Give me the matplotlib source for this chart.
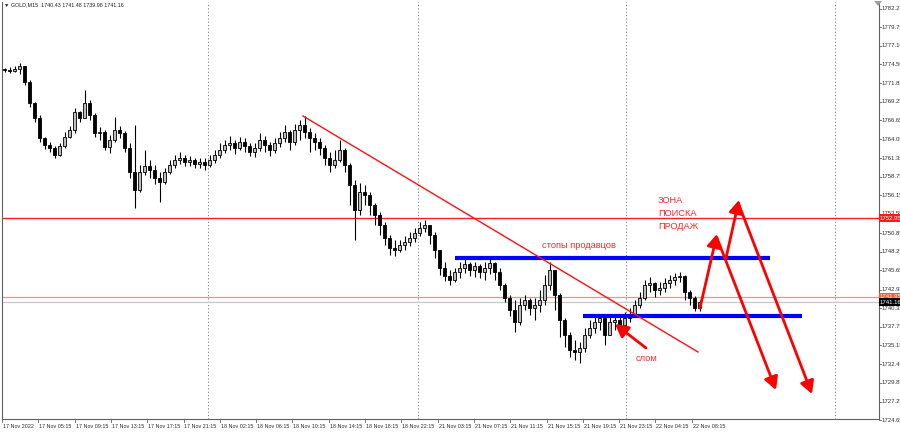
import matplotlib
matplotlib.use("Agg")
import matplotlib.pyplot as plt
import matplotlib.transforms as mtrans
import numpy as np

# ---------------- data ----------------
header = "\u25bc GOLD,M15  1740.43 1741.48 1739.98 1741.16"
first_open = 1773.9
close = [
    1773.7, 1773.6, 1773.8, 1774.3, 1772.0, 1769.1, 1767.0, 1764.2, 1763.2, 1762.8,
    1761.8, 1763.1, 1764.3, 1765.3, 1767.8, 1767.0, 1769.1, 1767.4, 1764.9, 1765.0,
    1762.9, 1763.9, 1765.3, 1764.9, 1762.8, 1759.4, 1756.9, 1759.4, 1760.3, 1759.7,
    1758.6, 1758.0, 1759.4, 1760.4, 1761.1, 1761.4, 1760.8, 1761.1, 1760.5, 1760.8,
    1760.4, 1761.1, 1761.8, 1762.5, 1763.2, 1763.5, 1762.8, 1763.6, 1763.1, 1762.2,
    1762.8, 1763.9, 1763.2, 1762.5, 1763.5, 1764.2, 1765.0, 1763.6, 1765.3, 1766.0,
    1765.0, 1764.2, 1763.6, 1762.8, 1761.4, 1760.4, 1761.1, 1762.5, 1760.4, 1757.6,
    1754.1, 1756.6, 1756.2, 1754.8, 1753.4, 1752.0, 1750.2, 1748.8, 1748.5, 1749.2,
    1749.6, 1750.2, 1750.9, 1751.6, 1752.0, 1750.6, 1748.5, 1746.0, 1744.9, 1744.3,
    1745.4, 1746.0, 1746.5, 1745.7, 1746.3, 1745.4, 1746.0, 1746.7, 1745.4, 1743.6,
    1741.8, 1740.1, 1738.4, 1740.8, 1741.5, 1740.4, 1740.8, 1741.5, 1743.6, 1745.7,
    1742.2, 1738.7, 1736.6, 1734.5, 1734.2, 1734.8, 1736.6, 1737.6, 1738.4, 1739.0,
    1736.6, 1738.4, 1738.7, 1738.0, 1739.0, 1739.4, 1740.8, 1741.8, 1743.6, 1743.9,
    1742.9, 1743.2, 1743.9, 1744.3, 1744.7, 1744.9, 1742.6, 1741.8, 1740.4, 1741.16,
]
high = [
    1774.0, 1774.1, 1774.3, 1774.7, 1774.3, 1772.3, 1769.3, 1767.4, 1764.3, 1763.6,
    1763.1, 1763.5, 1765.0, 1765.9, 1768.4, 1768.0, 1770.9, 1769.5, 1767.7, 1765.7,
    1765.3, 1764.6, 1767.1, 1765.9, 1765.2, 1763.5, 1766.0, 1760.4, 1762.5, 1761.1,
    1760.4, 1759.4, 1760.0, 1761.1, 1761.8, 1762.2, 1761.8, 1761.7, 1761.4, 1761.4,
    1761.4, 1761.8, 1762.5, 1763.5, 1763.9, 1764.5, 1763.9, 1764.3, 1764.2, 1763.5,
    1763.5, 1764.9, 1764.5, 1763.6, 1764.2, 1765.0, 1766.0, 1765.3, 1766.1, 1766.7,
    1767.3, 1765.6, 1764.9, 1764.2, 1763.2, 1762.2, 1762.5, 1763.9, 1762.8, 1760.7,
    1758.3, 1757.9, 1757.6, 1756.6, 1755.1, 1753.8, 1752.4, 1750.6, 1749.9, 1749.9,
    1750.5, 1751.0, 1751.6, 1752.4, 1752.7, 1752.0, 1751.0, 1748.5, 1746.8, 1745.7,
    1746.0, 1746.8, 1747.2, 1746.8, 1746.8, 1746.5, 1746.8, 1747.2, 1746.8, 1746.0,
    1743.9, 1742.2, 1741.5, 1741.8, 1742.2, 1741.8, 1741.8, 1742.9, 1745.0, 1746.8,
    1745.7, 1742.4, 1739.0, 1737.0, 1735.9, 1735.6, 1737.6, 1738.7, 1739.5, 1739.4,
    1739.3, 1739.3, 1739.3, 1739.4, 1739.8, 1740.4, 1741.5, 1742.6, 1744.3, 1744.7,
    1744.0, 1744.0, 1744.6, 1745.0, 1745.3, 1745.4, 1745.0, 1742.9, 1742.1, 1741.48,
]
low = [
    1773.4, 1773.3, 1773.4, 1773.1, 1771.6, 1768.5, 1766.4, 1763.6, 1762.6, 1762.2,
    1761.4, 1761.7, 1762.8, 1764.2, 1764.9, 1766.4, 1767.0, 1766.7, 1764.3, 1763.9,
    1762.5, 1762.1, 1763.6, 1764.2, 1762.2, 1758.6, 1754.4, 1756.6, 1759.0, 1758.6,
    1757.8, 1755.2, 1757.8, 1759.1, 1760.0, 1760.5, 1760.3, 1760.3, 1760.0, 1760.0,
    1759.7, 1760.1, 1760.7, 1761.4, 1762.1, 1762.5, 1762.0, 1762.5, 1762.2, 1761.7,
    1761.5, 1762.4, 1762.2, 1761.7, 1762.1, 1762.9, 1763.6, 1762.5, 1763.2, 1763.9,
    1764.2, 1762.2, 1762.5, 1761.8, 1760.4, 1759.4, 1760.0, 1760.8, 1759.4, 1754.8,
    1749.9, 1753.4, 1754.8, 1753.4, 1752.0, 1750.6, 1749.2, 1747.8, 1747.7, 1748.2,
    1748.5, 1749.1, 1749.6, 1750.5, 1751.0, 1749.3, 1747.4, 1745.0, 1744.2, 1743.6,
    1744.0, 1744.6, 1745.3, 1744.9, 1744.7, 1744.6, 1744.3, 1745.1, 1744.3, 1742.9,
    1741.2, 1739.3, 1737.0, 1738.0, 1740.1, 1739.4, 1738.7, 1739.8, 1740.8, 1742.9,
    1740.1, 1736.3, 1734.9, 1733.5, 1733.1, 1732.7, 1734.2, 1736.2, 1736.9, 1737.3,
    1735.2, 1736.6, 1737.3, 1737.3, 1737.6, 1738.4, 1739.1, 1740.4, 1741.5, 1742.6,
    1741.9, 1742.2, 1742.6, 1743.2, 1743.6, 1744.0, 1741.5, 1740.8, 1740.0, 1739.98,
]
time_labels = [
    "17 Nov 2022", "17 Nov 05:15", "17 Nov 09:15", "17 Nov 13:15", "17 Nov 17:15",
    "17 Nov 21:15", "18 Nov 02:15", "18 Nov 06:15", "18 Nov 10:15", "18 Nov 14:15",
    "18 Nov 18:15", "18 Nov 22:15", "21 Nov 03:15", "21 Nov 07:15", "21 Nov 11:15",
    "21 Nov 15:15", "21 Nov 19:15", "21 Nov 23:15", "22 Nov 04:15", "22 Nov 08:15",
]
price_labels = [
    1782.28, 1779.70, 1777.10, 1774.50, 1771.85, 1769.25, 1766.65, 1764.05,
    1761.35, 1758.75, 1756.15, 1753.55, 1750.85, 1748.25, 1745.65, 1742.95,
    1740.35, 1737.75, 1735.15, 1732.45, 1729.85, 1727.25, 1724.65,
]
resistance_level = 1752.95
ask_level = 1741.95
bid_level = 1741.16
stops_level = 1747.37
break_level = 1739.24

# ---------------- figure ----------------
W, H = 900, 432
fig = plt.figure(figsize=(W / 100, H / 100), dpi=100)
L, R, T, B = 2, 879, 2, 419
ax = fig.add_axes([L / W, 1 - B / H, (R - L) / W, (B - T) / H])

PX_PER_BAR = 5.0
X0 = 4.5
def xi(px):
    return (px - X0) / PX_PER_BAR

ax.set_xlim(xi(L), xi(R))
ax.set_ylim(1724.80, 1783.26)

def py(p):
    y0, y1 = ax.get_ylim()
    return y1 - (p - T) / (B - T) * (y1 - y0)

FONT = ['Liberation Sans', 'DejaVu Sans']
FS_PRICE = 4.3
FS_TIME = 3.9

n = len(close)
idx = np.arange(n)
c = np.array(close)
o = np.array([first_open] + close[:-1])
h = np.array(high)
lo = np.array(low)
up = c >= o

ax.vlines(idx, lo, h, color='black', lw=0.8, zorder=3)
bb = np.minimum(o, c)
bh = np.maximum(np.abs(c - o), 0.07)
ax.bar(idx[up], bh[up], bottom=bb[up], width=0.62, color='#bdbdbd',
       edgecolor='black', linewidth=0.6, zorder=4)
ax.bar(idx[~up], bh[~up], bottom=bb[~up], width=0.62, color='black',
       edgecolor='black', linewidth=0.6, zorder=4)

# day separators
for px in [208, 418, 626, 835]:
    ax.axvline(xi(px), color='#808080', lw=0.8, ls=(0, (1, 2)), zorder=1)

# horizontal levels
ax.axhline(resistance_level, color='#ff2020', lw=1.0, zorder=2)
ax.axhline(ask_level, color='#ff9070', lw=0.9, zorder=2)
ax.axhline(bid_level, color='#c8c8c8', lw=0.9, zorder=1.5)

# blue levels
ax.plot([xi(455), xi(770)], [stops_level, stops_level], color='#0000ff', lw=3.0,
        solid_capstyle='butt', zorder=5)
ax.plot([xi(583), xi(802)], [break_level, break_level], color='#0000ff', lw=3.0,
        solid_capstyle='butt', zorder=5)

# trend line
ax.plot([xi(303), xi(698)], [py(116), py(352)], color='#ff1010', lw=1.0, zorder=5)

# arrows
arrow_kw = dict(arrowstyle='-|>,head_length=0.55,head_width=0.3', color='#ff0000',
                lw=2.0, shrinkA=0, shrinkB=0, mutation_scale=14)
arrows = [((700, 308), (717, 234)), ((717, 238), (776, 390)),
          ((726, 258), (739, 200)), ((739, 205), (812, 394)),
          ((646, 348), (615, 324))]
for (x1, y1), (x2, y2) in arrows:
    ax.annotate('', xy=(xi(x2), py(y2)), xytext=(xi(x1), py(y1)),
                arrowprops=arrow_kw, zorder=6, annotation_clip=False)

# texts
tcol = '#ff2a2a'
for txt, ypx in [("ЗОНА", 201), ("ПОИСКА", 214), ("ПРОДАЖ", 227)]:
    ax.text(xi(658), py(ypx), txt, color=tcol, fontsize=6.7, va='center', ha='left',
            family=FONT, zorder=7)
ax.text(xi(542), py(246), "стопы продавцов", color=tcol, fontsize=6.7, va='center',
        ha='left', family=FONT, zorder=7)
ax.text(xi(636), py(359), "слом", color=tcol, fontsize=6.7, va='center', ha='left',
        family=FONT, zorder=7)

# spines
ax.spines['top'].set_visible(False)
for s in ['left', 'right', 'bottom']:
    ax.spines[s].set_color('#606060')
    ax.spines[s].set_linewidth(0.8)
ax.set_xticks([])
ax.set_yticks([])

# right price scale
blend_y = mtrans.blended_transform_factory(ax.transAxes, ax.transData)
dx = 1.0 / (R - L)
for v in price_labels:
    ax.plot([1.0, 1.0 + 2 * dx], [v, v], color='#606060', lw=0.6, transform=blend_y,
            clip_on=False)
    ax.text(1.0 + 3 * dx, v, f"{v:.2f}", transform=blend_y, fontsize=FS_PRICE,
            va='center', ha='left', family=FONT, color='#303030', clip_on=False)

def price_box(v, fc, tc):
    ax.text(1.0 + 1 * dx, v, f"{v:.2f}", transform=blend_y, fontsize=FS_PRICE,
            va='center', ha='left', family=FONT, color=tc, clip_on=False, zorder=10,
            bbox=dict(boxstyle='square,pad=0.25', fc=fc, ec='none'))

price_box(resistance_level, '#ff1a1a', 'white')
price_box(ask_level, '#ff5a2a', 'white')
price_box(bid_level, 'black', 'white')

# bottom time scale
blend_x = mtrans.blended_transform_factory(ax.transData, ax.transAxes)
dy = 1.0 / (B - T)
for k, lab in enumerate(time_labels):
    xpx = 2 + 36.3 * k
    ax.plot([xi(xpx), xi(xpx)], [0, -3 * dy], color='#606060', lw=0.6,
            transform=blend_x, clip_on=False)
    ax.text(xi(xpx + 1), -7 * dy, lab, transform=blend_x, fontsize=FS_TIME,
            va='center', ha='left', family=FONT, color='#303030', clip_on=False)

# header
fig.text(4 / W, 1 - 5 / H, header, fontsize=FS_TIME, va='center', ha='left',
         family=FONT, color='#202020')

# shift marker
fig.patches.append(plt.Polygon([[874 / W, 1 - 1 / H], [882 / W, 1 - 1 / H],
                                [878 / W, 1 - 6 / H]], closed=True,
                               transform=fig.transFigure, fc='#a0a0a0', ec='none'))

fig.savefig("out.png", dpi=100, facecolor='white')
